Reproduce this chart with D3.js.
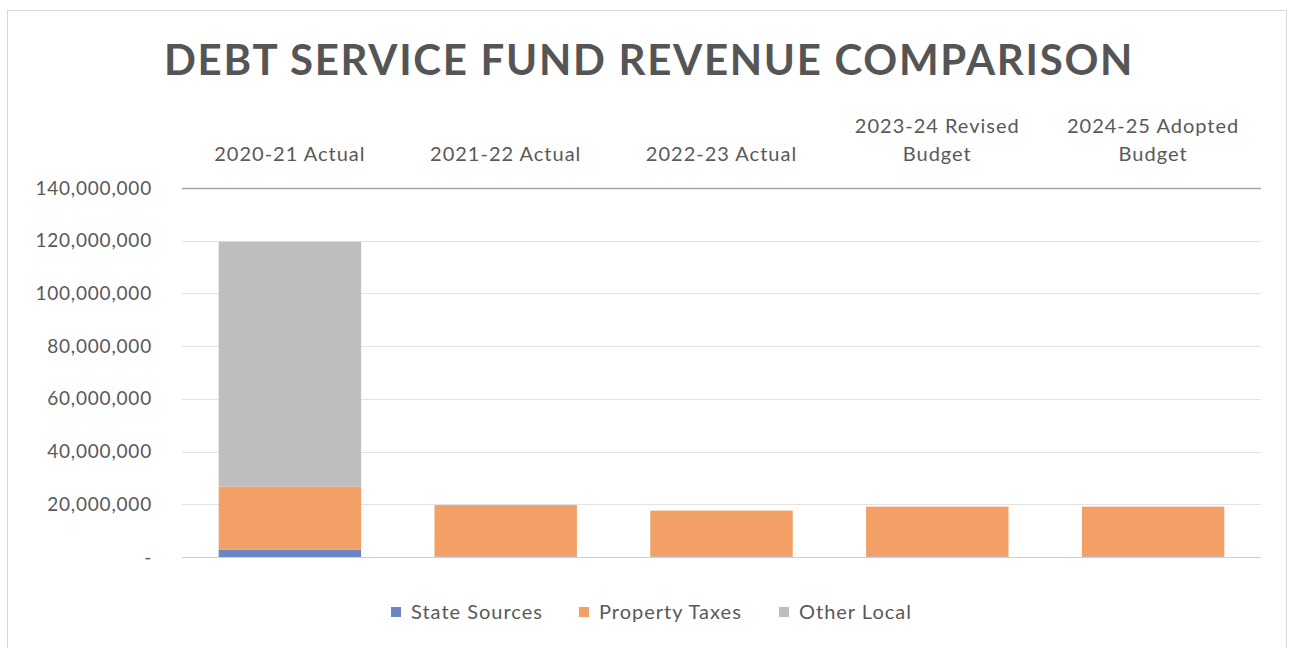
<!DOCTYPE html>
<html>
<head>
<meta charset="utf-8">
<script src="https://cdn.jsdelivr.net/npm/d3@7"></script>
<style>
  body { margin: 0; background: #fff; }
  text { font-family: Lato, "Noto Sans", sans-serif; }
</style>
</head>
<body>
<div id="chart"></div>
<script>
const categories = ["2020-21 Actual", "2021-22 Actual", "2022-23 Actual", "2023-24 Revised Budget", "2024-25 Adopted Budget"];
const seriesNames = ["State Sources", "Property Taxes", "Other Local"];
const stateSources = [2700000, 200000, 200000, 200000, 200000];
const propertyTaxes = [24000000, 19500000, 17400000, 18900000, 18900000];
const otherLocal = [92900000, 0, 0, 0, 0];
const yTicks = [0, 20000000, 40000000, 60000000, 80000000, 100000000, 120000000, 140000000];

const colours = ["#6a86c2", "#f2a066", "#bebebe"];

const W = 1294, H = 648;
const margin = { top: 188, right: 33, bottom: 91, left: 182 };
const width = W - margin.left - margin.right,
    height = H - margin.top - margin.bottom;

const svg = d3.select("#chart").append("svg")
    .attr("width", W)
    .attr("height", H);

// chart frame
svg.append("rect")
    .attr("x", 7.5).attr("y", 10.5)
    .attr("width", 1279).attr("height", 640)
    .attr("fill", "#fff")
    .attr("stroke", "#d9d9d9");

svg.append("text")
    .attr("x", 649)
    .attr("y", 75)
    .attr("text-anchor", "middle")
    .style("font-size", "42px")
    .style("font-weight", "bold")
    .style("letter-spacing", "1.7px")
    .style("fill", "#555")
    .text("DEBT SERVICE FUND REVENUE COMPARISON");

const g = svg.append("g")
    .attr("transform", "translate(" + margin.left + "," + margin.top + ")");

const data = categories.map((c, i) => ({
    category: c,
    "State Sources": stateSources[i],
    "Property Taxes": propertyTaxes[i],
    "Other Local": otherLocal[i]
}));

const x = d3.scaleBand()
    .domain(categories)
    .range([0, width])
    .paddingInner(0.34)
    .paddingOuter(0.17);

const y = d3.scaleLinear()
    .domain([0, 140000000])
    .range([height, 0]);

// gridlines
g.append("g").selectAll("line")
    .data(yTicks.slice(1, -1))
    .enter().append("line")
    .attr("x1", 0).attr("x2", width)
    .attr("y1", d => Math.round(y(d)) + 0.5)
    .attr("y2", d => Math.round(y(d)) + 0.5)
    .attr("stroke", "#e3e3e3");

g.append("line")
    .attr("x1", 0).attr("x2", width)
    .attr("y1", height + 0.5).attr("y2", height + 0.5)
    .attr("stroke", "#d0d0d0");

const yAxis = d3.axisLeft(y)
    .tickValues(yTicks)
    .tickSize(0)
    .tickPadding(30)
    .tickFormat(d => d === 0 ? "-" : d3.format(",")(d));

const yAxisElem = g.append("g").call(yAxis);
yAxisElem.select(".domain").remove();
yAxisElem.selectAll("text")
    .style("font-size", "19px")
    .style("letter-spacing", "0.8px")
    .style("fill", "#595959")
    .style("font-family", "Lato, 'Noto Sans', sans-serif");
yAxisElem.selectAll(".tick text").filter(d => d === 0).attr("dx", 0);

const stack = d3.stack().keys(seriesNames);
const stacked = stack(data);

g.append("g").selectAll("g")
    .data(stacked)
    .enter().append("g")
    .attr("fill", (d, i) => colours[i])
    .selectAll("rect")
    .data(d => d)
    .enter().append("rect")
    .attr("x", d => x(d.data.category))
    .attr("y", d => y(d[1]))
    .attr("width", x.bandwidth())
    .attr("height", d => y(d[0]) - y(d[1]));

// category axis on top
g.append("line")
    .attr("x1", 0).attr("x2", width)
    .attr("y1", 0.5).attr("y2", 0.5)
    .attr("stroke", "#a6a6a6")
    .attr("stroke-width", 1.5);

const catLabels = g.append("g").selectAll("text")
    .data(categories)
    .enter().append("text")
    .attr("x", d => x(d) + x.bandwidth() / 2)
    .attr("text-anchor", "middle")
    .style("font-size", "20px")
    .style("letter-spacing", "1px")
    .style("fill", "#595959");

catLabels.each(function(d) {
    const words = d.split(" ");
    const lines = d.endsWith("Budget") ? [words.slice(0, -1).join(" "), "Budget"] : [d];
    const t = d3.select(this);
    lines.forEach((l, i) => {
        t.append("tspan")
            .attr("x", x(d) + x.bandwidth() / 2)
            .attr("y", -27 - (lines.length - 1 - i) * 28)
            .text(l);
    });
});

// legend
const legendX = [391, 579, 779];
const legend = svg.append("g").selectAll("g")
    .data(seriesNames)
    .enter().append("g")
    .attr("transform", (d, i) => "translate(" + legendX[i] + ",607)");
legend.append("rect")
    .attr("width", 10).attr("height", 10)
    .attr("fill", (d, i) => colours[i]);
legend.append("text")
    .attr("x", 20)
    .attr("y", 12)
    .style("font-size", "20px")
    .style("letter-spacing", "1px")
    .style("fill", "#595959")
    .text(d => d);
</script>
</body>
</html>
